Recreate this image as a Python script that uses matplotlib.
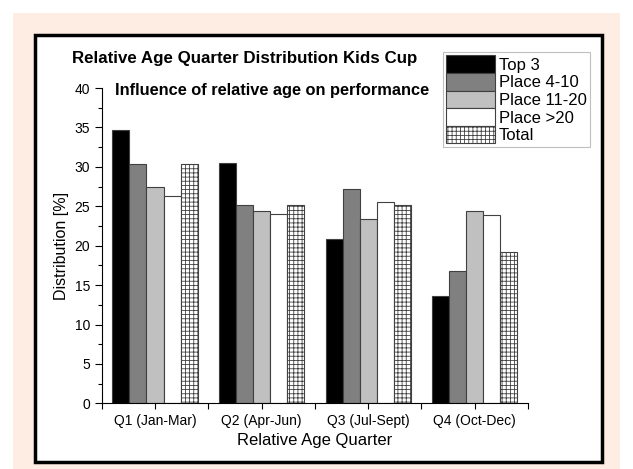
import matplotlib
matplotlib.use("Agg")
import matplotlib.pyplot as plt
import numpy as np
from matplotlib.patches import Rectangle
from matplotlib.ticker import MultipleLocator

plt.rcParams["font.family"] = ["Liberation Sans", "DejaVu Sans"]
plt.rcParams["hatch.color"] = "#707070"
plt.rcParams["hatch.linewidth"] = 0.6

quarters = ["Q1 (Jan-Mar)", "Q2 (Apr-Jun)", "Q3 (Jul-Sept)", "Q4 (Oct-Dec)"]
series = ["Top 3", "Place 4-10", "Place 11-20", "Place >20", "Total"]
top3 = [34.7, 30.5, 20.9, 13.6]
place4_10 = [30.4, 25.2, 27.2, 16.8]
place11_20 = [27.5, 24.4, 23.4, 24.4]
place20 = [26.3, 24.0, 25.5, 23.9]
total = [30.3, 25.2, 25.1, 19.2]

values = [top3, place4_10, place11_20, place20, total]
colors = ["#000000", "#808080", "#c0c0c0", "#ffffff", "#ffffff"]
hatches = [None, None, None, None, "++++"]

fig = plt.figure(figsize=(6.33, 4.69), dpi=100)
fig.patch.set_facecolor("white")

# peach background and black frame
fig.patches.append(Rectangle((13 / 633, 0), 607 / 633, 456 / 469, transform=fig.transFigure,
                             facecolor="#fdede3", edgecolor="none", zorder=-3))
fig.patches.append(Rectangle((35 / 633, 7 / 469), 567 / 633, 427 / 469, transform=fig.transFigure,
                             facecolor="white", edgecolor="black", linewidth=2.5, zorder=-2))

ax = fig.add_axes([0.1607, 0.140, 0.6735, 0.6723])
ax.set_facecolor("none")

x = np.arange(len(quarters))
width = 0.16
for i, (vals, name) in enumerate(zip(values, series)):
    ax.bar(x + (i - 2) * width, vals, width, color=colors[i], edgecolor="#404040",
           linewidth=0.8, hatch=hatches[i], label=name)

ax.set_xlim(-0.48, 3.49)
ax.set_ylim(0, 40)
ax.yaxis.set_major_locator(MultipleLocator(5))
ax.yaxis.set_minor_locator(MultipleLocator(2.5))
ax.set_xticks(x)
ax.set_xticklabels(quarters, fontsize=10)
ax.set_xticks(np.arange(-0.5, 3.6, 1), minor=True)
ax.tick_params(axis="y", labelsize=10, direction="out", length=5, width=0.8)
ax.tick_params(axis="y", which="minor", length=3, width=0.8)
ax.tick_params(axis="x", which="both", direction="out", length=4, width=0.8)
for s in ["top", "right"]:
    ax.spines[s].set_visible(False)
ax.spines["left"].set_linewidth(0.8)
ax.spines["bottom"].set_linewidth(0.8)

ax.set_ylabel("Distribution [%]", fontsize=11.5)
ax.set_xlabel("Relative Age Quarter", fontsize=12)

fig.text(72 / 633, 1 - 58 / 469, "Relative Age Quarter Distribution Kids Cup",
         fontsize=12.2, fontweight="bold", va="center", ha="left")
fig.text(115 / 633, 1 - 91 / 469, "Influence of relative age on performance",
         fontsize=11.8, fontweight="bold", va="center", ha="left")

leg = ax.legend(loc="upper left", bbox_to_anchor=(443 / 633, 1 - 52 / 469),
                bbox_transform=fig.transFigure, fontsize=12, frameon=True,
                fancybox=False, edgecolor="#b0b0b0", borderpad=0.2,
                handlelength=2.9, handleheight=1.25, handletextpad=0.25,
                labelspacing=0.0, borderaxespad=0)
leg.get_frame().set_linewidth(0.8)

fig.savefig("out.png", dpi=100)
